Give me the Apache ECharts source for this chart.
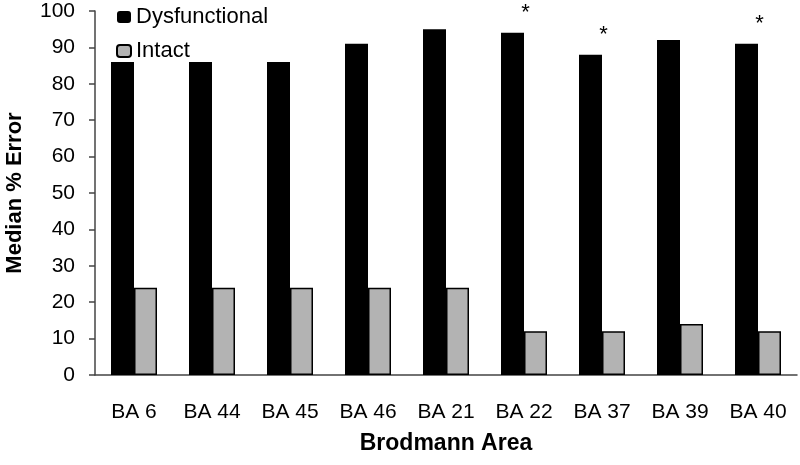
<!DOCTYPE html>
<html>
<head>
<meta charset="utf-8">
<script src="https://cdn.jsdelivr.net/npm/echarts@6/dist/echarts.min.js"></script>
<style>
  html, body { margin: 0; padding: 0; background: #fff; }
  #chart { width: 800px; height: 465px; }
</style>
</head>
<body>
<div id="chart"></div>
<script>
  const areas = ['BA 6', 'BA 44', 'BA 45', 'BA 46', 'BA 21', 'BA 22', 'BA 37', 'BA 39', 'BA 40']
  const dysfunctional = [86, 86, 86, 91, 95, 94, 88, 92, 91]
  const intact = [24, 24, 24, 24, 24, 12, 12, 14, 12]
  // significance markers drawn above the dysfunctional bars
  const signif = ['', '', '', '', '', '*', '*', '', '*']

  const font = 'Liberation Sans, Arial, Helvetica, sans-serif'

  let myChart = echarts.init(document.getElementById('chart'))
  myChart.setOption({
    animation: false,
    textStyle: { fontFamily: font, color: '#000' },
    grid: { left: 95, right: 3, top: 11, bottom: 90, containLabel: false, outerBoundsMode: 'none' },
    legend: {
      orient: 'vertical',
      left: 111,
      top: 1,
      itemWidth: 14,
      itemHeight: 12,
      itemGap: 12,
      textStyle: { fontSize: 22, color: '#000', fontFamily: font },
      data: ['Dysfunctional', 'Intact']
    },
    xAxis: {
      type: 'category',
      data: areas,
      name: 'Brodmann Area',
      nameLocation: 'middle',
      nameGap: 57,
      nameTextStyle: { fontSize: 23, fontWeight: 'bold', color: '#000' },
      axisLine: { lineStyle: { color: '#444', width: 1.5 } },
      axisTick: { show: false },
      axisLabel: { fontSize: 21, color: '#000', margin: 27 }
    },
    yAxis: {
      type: 'value',
      min: 0,
      max: 100,
      interval: 10,
      name: 'Median % Error',
      nameLocation: 'middle',
      nameGap: 69,
      nameTextStyle: { fontSize: 22, fontWeight: 'bold', color: '#000' },
      axisLine: { show: true, lineStyle: { color: '#444', width: 1.5 } },
      axisTick: { show: true, length: 6, lineStyle: { color: '#444', width: 1.5 } },
      axisLabel: { fontSize: 21, color: '#000', margin: 20 },
      splitLine: { show: false }
    },
    series: [
      {
        name: 'Dysfunctional',
        type: 'bar',
        data: dysfunctional,
        barWidth: 23,
        barGap: '0%',
        itemStyle: { color: '#000' },
        label: {
          show: true,
          position: 'top',
          distance: 9,
          offset: [13, 0],
          fontSize: 22,
          color: '#000',
          formatter: p => signif[p.dataIndex]
        }
      },
      {
        name: 'Intact',
        type: 'bar',
        data: intact,
        barWidth: 23,
        itemStyle: { color: '#b3b3b3', borderColor: '#000', borderWidth: 1.5 }
      }
    ]
  })
</script>
</body>
</html>
